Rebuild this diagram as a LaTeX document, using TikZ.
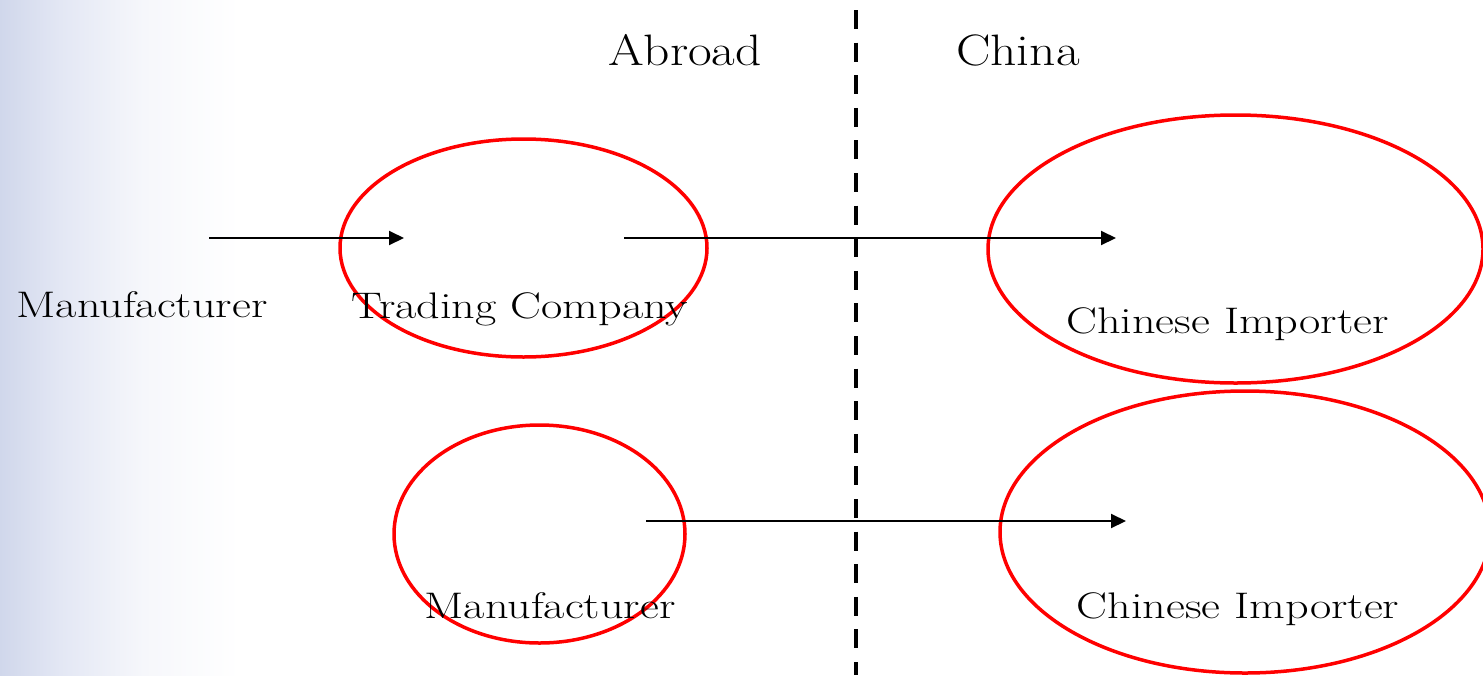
\documentclass[tikz,border=0pt]{standalone}
\usetikzlibrary{shapes.geometric,arrows.meta}
\pgfdeclarehorizontalshading{sidefade}{100bp}{%
  rgb(0bp)=(0.816,0.843,0.922);
  rgb(25bp)=(0.816,0.843,0.922);
  rgb(37.5bp)=(0.890,0.906,0.957);
  rgb(55bp)=(0.965,0.969,0.984);
  rgb(75bp)=(1,1,1);
  rgb(100bp)=(1,1,1)}
\begin{document}
\begin{tikzpicture}[x=1pt,y=-1pt,
  lbl/.style={anchor=base,inner sep=0pt,font=\fontsize{37}{42}\selectfont},
  head/.style={anchor=base,inner sep=0pt,font=\fontsize{44}{50}\selectfont},
  ring/.style={ellipse,draw=red,line width=3.5pt,inner sep=0pt},
  flow/.style={line width=2pt,-{Triangle[length=15pt,width=14pt]}},
  border/.style={line width=4.5pt,dash pattern=on 19pt off 13.6pt}]
\useasboundingbox (0,0) rectangle (1483,675);
\shade[shading=sidefade] (0,0) rectangle (240,675);
% region labels
\node[head] (abroad) at (685,65) {\scalebox{1.17}[1]{Abroad}};
\node[head] (china) at (1018,65) {\scalebox{1.17}[1]{China}};
% dashed border
\coordinate (btop) at (856,10);
\coordinate (bbot) at (856,675);
\draw[border] (btop) -- (bbot);
% ellipses
\node[ring,minimum width=367pt,minimum height=218pt] (e1) at (523.5,248) {};
\node[ring,minimum width=495pt,minimum height=268pt] (e2) at (1235.5,249) {};
\node[ring,minimum width=291pt,minimum height=218pt] (e3) at (539.5,534) {};
\node[ring,minimum width=490pt,minimum height=282pt] (e4) at (1245,532) {};
% texts
\node[lbl] (m1) at (142,317) {\scalebox{1.25}[1]{Manufacturer}};
\node[lbl] (tc) at (520,318) {\scalebox{1.25}[1]{Trading Company}};
\node[lbl] (ci1) at (1227.5,333) {\scalebox{1.25}[1]{Chinese Importer}};
\node[lbl] (m2) at (550,618) {\scalebox{1.25}[1]{Manufacturer}};
\node[lbl] (ci2) at (1238,618) {\scalebox{1.25}[1]{Chinese Importer}};
% arrows
\coordinate (a1s) at (209,238);
\coordinate (a1e) at (404,238);
\coordinate (a2s) at (624,238);
\coordinate (a2e) at (1116,238);
\coordinate (a3s) at (646,521);
\coordinate (a3e) at (1126,521);
\draw[flow] (a1s) -- (a1e);
\draw[flow] (a2s) -- (a2e);
\draw[flow] (a3s) -- (a3e);
\end{tikzpicture}
\end{document}
